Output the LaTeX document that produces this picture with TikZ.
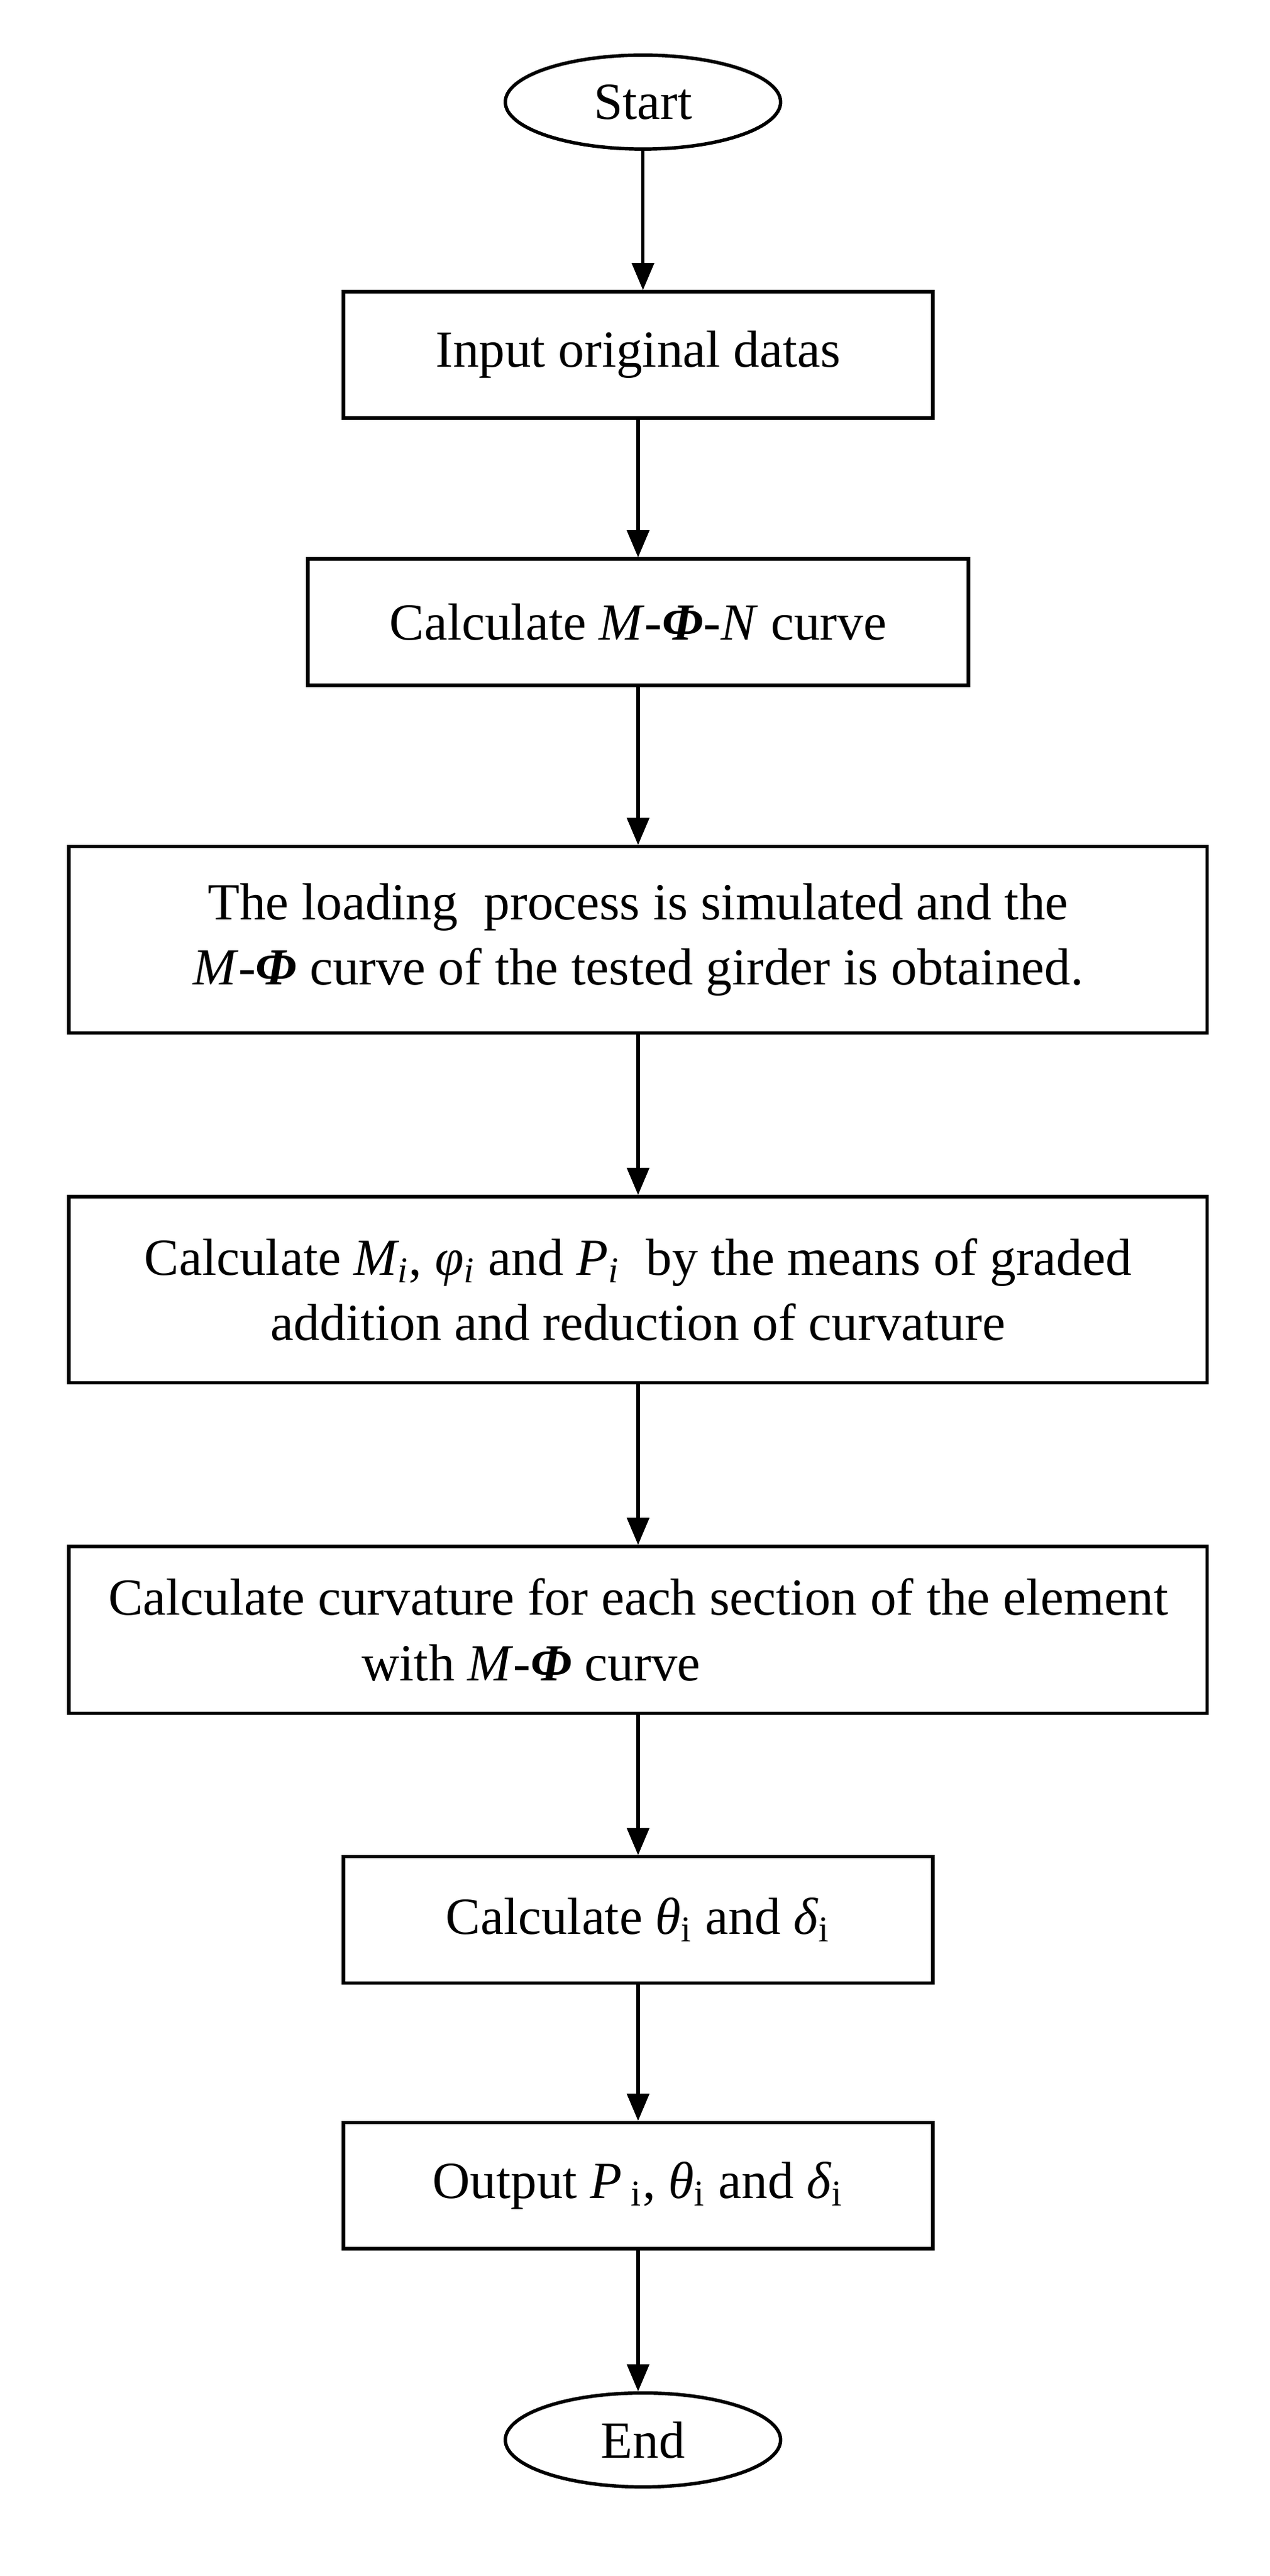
\documentclass[tikz,border=0pt]{standalone}
\usepackage{fontspec}
\setmainfont{Liberation Serif}
\usetikzlibrary{shapes.geometric}
\usetikzlibrary{arrows}

\begin{document}
\begin{tikzpicture}[x=0.02cm,y=-0.02cm,
		box/.style={shape=rectangle, draw=black, line width=1.2pt, font=\fontsize{18.3}{23}\selectfont, align=center, inner sep=0pt},
		term/.style={shape=ellipse, draw=black, line width=1.2pt, minimum width=3.4cm, minimum height=1.16cm, font=\fontsize{18.3}{23}\selectfont},
]
\useasboundingbox (0,0) rectangle (784,1590);

\node[term] (start) at (397,63) {Start};
\node[box, minimum width=7.28cm, minimum height=1.56cm] (input) at (394,219) {Input original datas};
\node[box, minimum width=8.16cm, minimum height=1.56cm] (mpn) at (394,384) {Calculate \textit{M}-\textbf{\textit{Φ}}-\textit{N} curve};
\node[box, minimum width=14.06cm, minimum height=2.3cm] (load) at (394,580) {The loading\ \ process is simulated and the\\ \textit{M}-\textbf{\textit{Φ}} curve of the tested girder is obtained.};
\node[box, minimum width=14.06cm, minimum height=2.3cm] (grad) at (394,796) {Calculate \textit{M\textsubscript{i}}, \textit{φ\textsubscript{i}} and \textit{P\textsubscript{i}}\ \ by the means of graded\\ addition and reduction of curvature};
\node[box, minimum width=14.06cm, minimum height=2.06cm] (curv) at (394,1006) {Calculate curvature for each section of the element\\ with \textit{M}-\textbf{\textit{Φ}} curve\hspace*{2.64cm}};
\node[box, minimum width=7.28cm, minimum height=1.56cm] (theta) at (394,1185) {Calculate \textit{θ}\textsubscript{i} and \textit{δ}\textsubscript{i}};
\node[box, minimum width=7.28cm, minimum height=1.56cm] (out) at (394,1349) {Output \textit{P}\,\textsubscript{i}, \textit{θ}\textsubscript{i} and \textit{δ}\textsubscript{i}};
\node[term] (end) at (397,1506) {End};

\draw [->, >=triangle 45, line width=1.2pt] (start) -- (start |- input.north);
\draw [->, >=triangle 45, line width=1.2pt] (input) -- (input.south |- mpn.north);
\draw [->, >=triangle 45, line width=1.2pt] (mpn) -- (mpn.south |- load.north);
\draw [->, >=triangle 45, line width=1.2pt] (load) -- (load.south |- grad.north);
\draw [->, >=triangle 45, line width=1.2pt] (grad) -- (grad.south |- curv.north);
\draw [->, >=triangle 45, line width=1.2pt] (curv) -- (curv.south |- theta.north);
\draw [->, >=triangle 45, line width=1.2pt] (theta) -- (theta.south |- out.north);
\draw [->, >=triangle 45, line width=1.2pt] (out) -- (out.south |- end.north);

\end{tikzpicture}
\end{document}
